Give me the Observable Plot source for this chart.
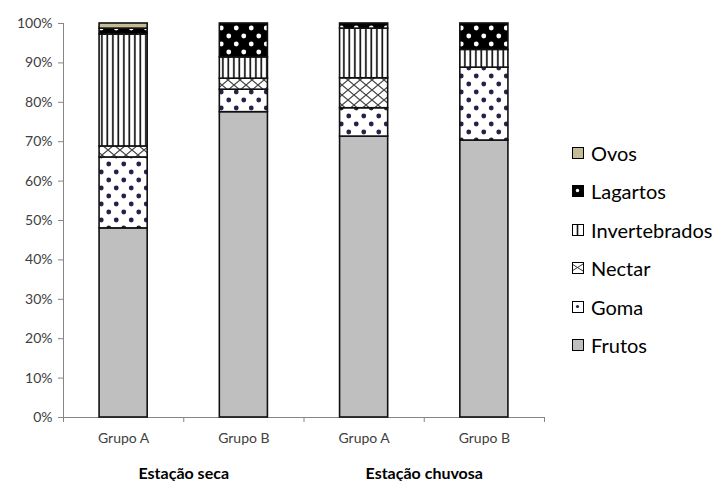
<!DOCTYPE html>
<html><head><meta charset="utf-8">
<script src="https://cdn.jsdelivr.net/npm/d3@7"></script>
<script src="https://cdn.jsdelivr.net/npm/@observablehq/plot@0.6"></script>
<style>
body{margin:0;background:#fff;font-family:Lato,"Open Sans",sans-serif;}
#wrap{position:relative;width:723px;height:481px;}
.item{position:absolute;left:572px;display:flex;align-items:center;white-space:nowrap;font-size:20px;color:#000;line-height:1;}
.item svg{margin-right:7px;}
</style></head><body><div id="wrap"></div>
<script>
const groups = ["Grupo A","Grupo B","Grupo A","Grupo B"];
const seasons = ["Estação seca","Estação chuvosa"];
const categories = ["Frutos","Goma","Nectar","Invertebrados","Lagartos","Ovos"];
const frutos = [48,77.5,71.3,70.3];
const goma = [18,5.7,7.2,18.5];
const nectar = [2.8,2.8,7.6,0];
const invertebrados = [28.4,5.4,12.6,4.5];
const lagartos = [1.5,8.6,1.3,6.7];
const ovos = [1.3,0,0,0];
const yTicks = [0,10,20,30,40,50,60,70,80,90,100];

const series = {Frutos:frutos, Goma:goma, Nectar:nectar, Invertebrados:invertebrados, Lagartos:lagartos, Ovos:ovos};
const rows = [];
groups.forEach((g,i)=>{
  let acc = 0;
  categories.forEach(c=>{
    const v = series[c][i];
    if (v > 0) rows.push({i, cat:c, y1:acc, y2:acc+v});
    acc += v;
  });
});
const patId = c => "pat-" + c;

const chart = Plot.plot({
  width:723, height:481,
  marginLeft:63, marginRight:179, marginTop:23, marginBottom:64,
  style:{fontFamily:"Lato, 'Open Sans', sans-serif", fontSize:"14px", color:"#404040", background:"#fff"},
  x:{domain:[0,4], ticks:[0,1,2,3,4], tickFormat:()=>"", tickSize:5, label:null},
  y:{domain:[0,100], ticks:yTicks, tickFormat:d=>d+"%", tickSize:5, tickPadding:6, label:null},
  color:{type:"ordinal", domain:categories, range:categories.map(c=>`url(#${patId(c)})`)},
  marks:[
    Plot.ruleX([0],{stroke:"#868686"}),
    Plot.ruleY([0],{stroke:"#868686"}),
    Plot.rect(rows,{x1:d=>d.i+0.3, x2:d=>d.i+0.7, y1:"y1", y2:"y2", fill:"cat", stroke:"#111", strokeWidth:1.6}),
    Plot.text(groups,{x:(d,i)=>i+0.5, y:()=>0, dy:21, text:d=>d, fill:"#404040", fontSize:14}),
    Plot.text(seasons,{x:(d,i)=>i*2+1, y:()=>0, dy:56, text:d=>d, fill:"#000", fontSize:16, fontWeight:"bold"})
  ]
});

function addPatterns(defs, small){
  const mk = (id,w,h)=>defs.append("pattern").attr("id",id).attr("patternUnits","userSpaceOnUse").attr("width",w).attr("height",h);
  const pre = small ? "lp-" : "pat-";
  let p;
  p = mk(pre+"Frutos",4,4); p.append("rect").attr("width",4).attr("height",4).attr("fill","#bfbfbf");
  p = mk(pre+"Ovos",4,4); p.append("rect").attr("width",4).attr("height",4).attr("fill","#c4bc96");
  if (!small){
    p = mk(pre+"Goma",15,16); p.append("rect").attr("width",15).attr("height",16).attr("fill","#fff");
    p.append("circle").attr("cx",3.75).attr("cy",4).attr("r",2.4).attr("fill","#23234a");
    p.append("circle").attr("cx",11.25).attr("cy",12).attr("r",2.4).attr("fill","#23234a");
    p = mk(pre+"Lagartos",15,16); p.append("rect").attr("width",15).attr("height",16).attr("fill","#000");
    p.append("circle").attr("cx",3.75).attr("cy",4).attr("r",2.4).attr("fill","#fff");
    p.append("circle").attr("cx",11.25).attr("cy",12).attr("r",2.4).attr("fill","#fff");
    p = mk(pre+"Nectar",12,10); p.append("rect").attr("width",12).attr("height",10).attr("fill","#fff");
    p.append("path").attr("d","M0,0L12,10M12,0L0,10").attr("stroke","#444").attr("stroke-width",1.2);
    p = mk(pre+"Invertebrados",5.5,10); p.append("rect").attr("width",5.5).attr("height",10).attr("fill","#fff");
    p.append("rect").attr("x",2).attr("width",1.7).attr("height",10).attr("fill","#111");
  } else {
    p = mk(pre+"Goma",11,11); p.append("rect").attr("width",11).attr("height",11).attr("fill","#fff");
    p.append("circle").attr("cx",5.5).attr("cy",5.5).attr("r",1.6).attr("fill","#23234a");
    p = mk(pre+"Lagartos",11,11); p.append("rect").attr("width",11).attr("height",11).attr("fill","#000");
    p.append("circle").attr("cx",5.5).attr("cy",5.5).attr("r",1.7).attr("fill","#fff");
    p = mk(pre+"Nectar",11,11); p.append("rect").attr("width",11).attr("height",11).attr("fill","#fff");
    p.append("path").attr("d","M0,2L11,9M11,2L0,9M0,2L0,9").attr("stroke","#333").attr("stroke-width",1);
    p = mk(pre+"Invertebrados",11,11); p.append("rect").attr("width",11).attr("height",11).attr("fill","#fff");
    p.append("rect").attr("x",4.7).attr("width",1.6).attr("height",11).attr("fill","#111");
  }
}

const svg = d3.select(chart.tagName.toLowerCase()==="svg" ? chart : chart.querySelector("svg"));
addPatterns(svg.insert("defs",":first-child"), false);
svg.selectAll("g[aria-label$='axis'] line, g[aria-label*='axis'] path, g[aria-label*='tick'] line, g[aria-label*='tick'] path").attr("stroke","#868686");

const wrap = document.getElementById("wrap");
wrap.appendChild(chart);

const legendOrder = categories.slice().reverse();
legendOrder.forEach((c,k)=>{
  const div = document.createElement("div");
  div.className = "item";
  div.style.top = (143 + k*38.4) + "px";
  const s = d3.create("svg").attr("width",12).attr("height",12);
  addPatterns(s.append("defs"), true);
  s.selectAll("pattern").attr("id", function(){ return this.id + "-" + k; });
  s.append("rect").attr("x",0.5).attr("y",0.5).attr("width",11).attr("height",11)
    .attr("fill",`url(#lp-${c}-${k})`).attr("stroke","#000").attr("stroke-width",1);
  div.appendChild(s.node());
  const t = document.createElement("span"); t.textContent = c;
  div.appendChild(t);
  wrap.appendChild(div);
});
</script></body></html>
